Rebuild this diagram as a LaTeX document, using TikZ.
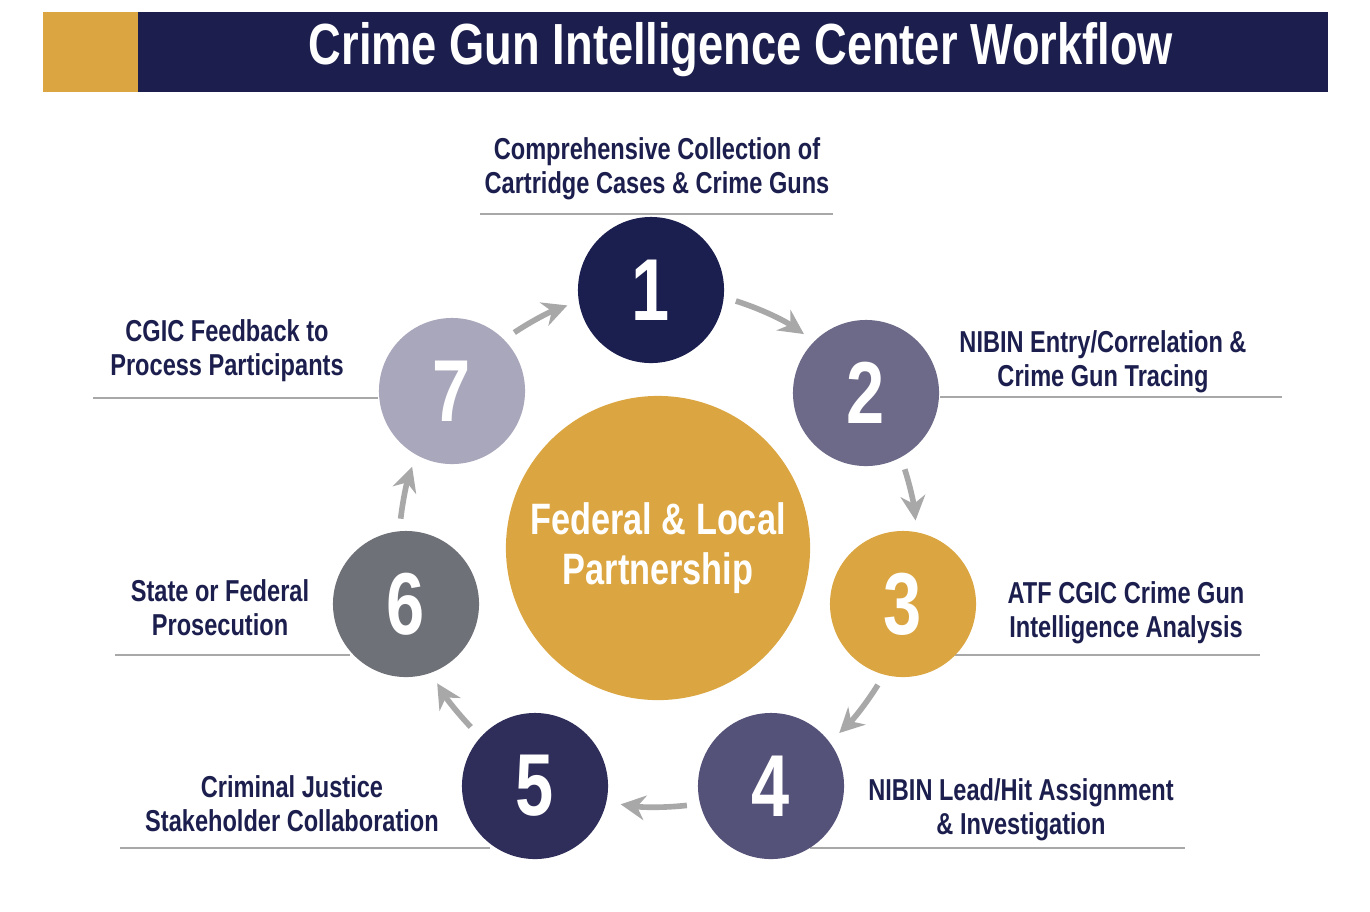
\documentclass[tikz,border=0pt]{standalone}
\usepackage{fontspec}
\setmainfont{Liberation Sans}[FakeStretch=0.78]
\usetikzlibrary{arrows.meta,calc}
\definecolor{navy}{HTML}{1C1F4E}
\definecolor{gold}{HTML}{DBA642}
\definecolor{cA}{HTML}{1B1F4F}
\definecolor{cB}{HTML}{6C6A88}
\definecolor{cD}{HTML}{55527A}
\definecolor{cE}{HTML}{2F2E5A}
\definecolor{cF}{HTML}{6F7178}
\definecolor{cG}{HTML}{A9A7BB}
\definecolor{arr}{HTML}{A8A8A8}
\tikzset{
 num/.style={circle,minimum size=1.46cm,inner sep=0pt,text=white,font=\bfseries\fontsize{25}{25}\selectfont},
 lab/.style={align=center,text=navy,font=\bfseries\fontsize{8.6}{9.7}\selectfont,inner sep=0pt},
 uline/.style={draw=arr,line width=0.6pt},
 flow/.style={draw=arr,line width=1.6pt,-{Stealth[length=7pt,width=7pt]}}
}
\begin{document}
\begin{tikzpicture}[x=0.01cm,y=-0.01cm]
\useasboundingbox (0,0) rectangle (1370,911);
\fill[white] (0,0) rectangle (1370,911);
\fill[navy] (138,12) rectangle (1328,92);
\fill[gold] (43,12) rectangle (138,92);
\node[text=white,font=\bfseries\fontsize{16.5}{16.5}\selectfont] (title) at (741,50) {Crime Gun Intelligence Center Workflow};
% underlines
\draw[uline] (480,214) -- (833,214);
\draw[uline] (940,397) -- (1282,397);
\draw[uline] (955,655) -- (1260,655);
\draw[uline] (810,848) -- (1185,848);
\draw[uline] (120,848) -- (490,848);
\draw[uline] (115,655) -- (350,655);
\draw[uline] (93,398) -- (378,398);
% arcs
\coordinate (ctr) at (658,548);
\foreach \a/\b in {91.5/36.7, 36.7/-12.9, -12.9/-64.6, -64.6/-117.3, -117.3/-167.5, -167.5/-217.3, -217.3/-268.5}{
  \draw[flow] ($(ctr)+({cos(\a-19)*259},{-sin(\a-19)*259})$) arc[start angle={-(\a-19)}, end angle={-(\b+19)}, radius=259];
}
\node[circle,fill=gold,minimum size=3.04cm,inner sep=0pt,text=white,align=center,font=\bfseries\fontsize{12.5}{14.2}\selectfont] (core) at (658,548) {Federal \& Local\\Partnership};
\node[num,fill=cA] (n1) at (651,290) {1};
\node[num,fill=cB] (n2) at (866,393) {2};
\node[num,fill=gold] (n3) at (903,604) {3};
\node[num,fill=cD] (n4) at (771,786) {4};
\node[num,fill=cE] (n5) at (535,786) {5};
\node[num,fill=cF] (n6) at (406,604) {6};
\node[num,fill=cG] (n7) at (452,391) {7};
\node[lab] (l1) at (657,169) {Comprehensive Collection of\\Cartridge Cases \& Crime Guns};
\node[lab] (l2) at (1103,362) {NIBIN Entry/Correlation \&\\Crime Gun Tracing};
\node[lab] (l3) at (1126,613) {ATF CGIC Crime Gun\\Intelligence Analysis};
\node[lab] (l4) at (1021,810) {NIBIN Lead/Hit Assignment\\\& Investigation};
\node[lab] (l5) at (292,804) {Criminal Justice\\Stakeholder Collaboration};
\node[lab] (l6) at (220,608) {State or Federal\\Prosecution};
\node[lab] (l7) at (227,351) {CGIC Feedback to\\Process Participants};
\end{tikzpicture}
\end{document}
